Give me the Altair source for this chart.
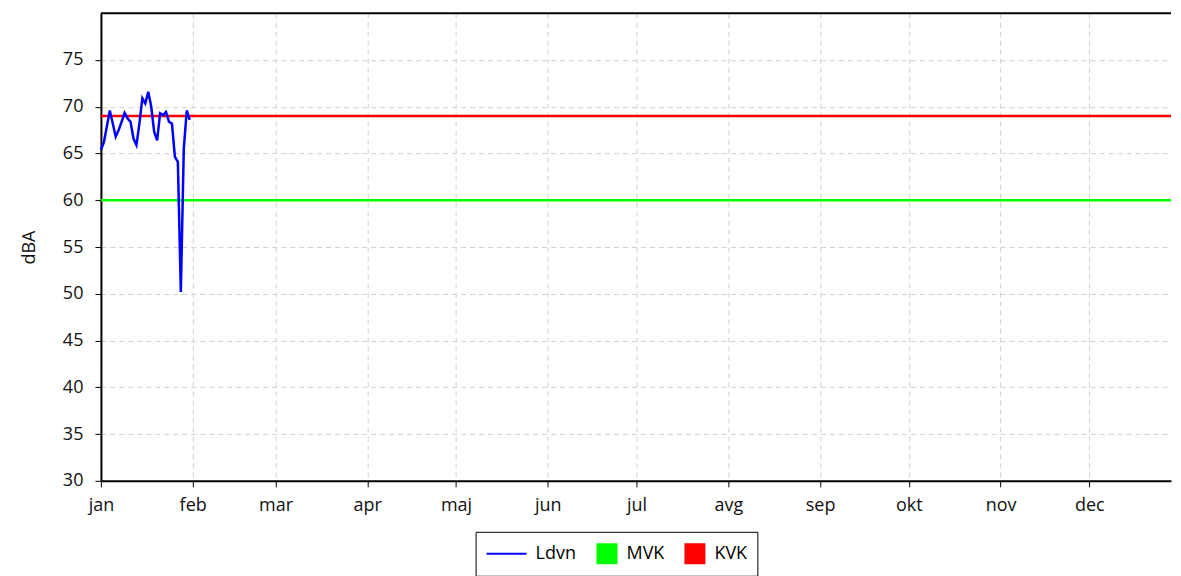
import json
import altair as alt
import pandas as pd

# ---- data ----
dates = [f"2023-01-{d:02d}" for d in range(1, 32)]
ldvn = [65.4, 66.2, 67.9, 69.6, 68.2, 66.8, 67.5, 68.4, 69.35, 68.75,
        68.4, 66.6, 65.9, 68.2, 70.9, 70.35, 71.6, 70.0, 67.3, 66.4,
        69.3, 69.1, 69.45, 68.4, 68.2, 64.65, 64.1, 50.2, 65.5, 69.6, 68.6]
limit_names = ["MVK", "KVK"]
limit_values = [60, 69]
series_names = ["Ldvn", "MVK", "KVK"]
series_colors = ["#0000ff", "#00ff00", "#ff0000"]
month_labels = ["jan", "feb", "mar", "apr", "maj", "jun",
                "jul", "avg", "sep", "okt", "nov", "dec"]
y_ticks = [30, 35, 40, 45, 50, 55, 60, 65, 70, 75]
y_domain = [30, 80]
year = 2023

line_df = pd.DataFrame({"date": dates, "value": ldvn, "series": "Ldvn"})
limit_df = pd.DataFrame({"series": limit_names, "value": limit_values})
top_df = pd.DataFrame({"value": [y_domain[1]]})

FONT = "Open Sans"
FS = 18

month_ticks = [alt.DateTime(year=year, month=m, date=1, utc=True) for m in range(1, 13)]
x_enc = alt.X(
    "date:T",
    scale=alt.Scale(type="utc", domain=[alt.DateTime(year=year, month=1, date=1, utc=True),
                                        alt.DateTime(year=year, month=12, date=28, hours=14, utc=True)]),
    axis=alt.Axis(values=month_ticks, title=None,
                  labelExpr=json.dumps(month_labels) + "[utcmonth(datum.value)]",
                  labelPadding=10, labelFlush=False),
)
y_enc = alt.Y(
    "value:Q",
    scale=alt.Scale(domain=y_domain, nice=False, zero=False),
    axis=alt.Axis(values=y_ticks, title="dBA", titlePadding=24, labelPadding=12),
)

square_path = "M0,-0.475H0.95V0.475H0Z"
legend = alt.Legend(
    title=None, orient="none", legendX=375, legendY=519, direction="horizontal",
    symbolType={"expr": f"datum.value == 'Ldvn' ? 'stroke' : '{square_path}'"},
    symbolSize=1600,
    symbolFillColor={"expr": "datum.value == 'MVK' ? '#00ff00' : (datum.value == 'KVK' ? '#ff0000' : 'transparent')"},
    symbolStrokeWidth=2, clipHeight=24,
    labelFont=FONT, labelFontSize=FS, labelColor="black", labelOffset=8,
    columnPadding=0, padding=10, strokeColor="black",
)
color_enc = alt.Color("series:N", scale=alt.Scale(domain=series_names, range=series_colors), legend=legend)

rules = alt.Chart(limit_df).mark_rule(strokeWidth=2.5).encode(y=y_enc, color=color_enc)
line = alt.Chart(line_df).mark_line(strokeWidth=2.5).encode(x=x_enc, y=y_enc, color=color_enc)
top = alt.Chart(top_df).mark_rule(color="black", strokeWidth=2).encode(y=alt.Y("value:Q"))

chart = (
    alt.layer(rules, line, top)
    .properties(width=1071, height=468, padding={"left": 12, "top": 4, "right": 0, "bottom": 0},
                background="white")
    .configure_view(stroke=None)
    .configure_axis(
        domainColor="black", domainWidth=2, tickColor="black", tickSize=6, tickWidth=1,
        gridColor="#d0d0d0", gridDash=[5, 4], gridWidth=1,
        labelFont=FONT, labelFontSize=FS, labelColor="#111111",
        titleFont=FONT, titleFontSize=FS, titleFontWeight="normal", titleColor="#111111",
    )
)

chart.save("out.html", embed_options={"renderer": "svg", "actions": False})
